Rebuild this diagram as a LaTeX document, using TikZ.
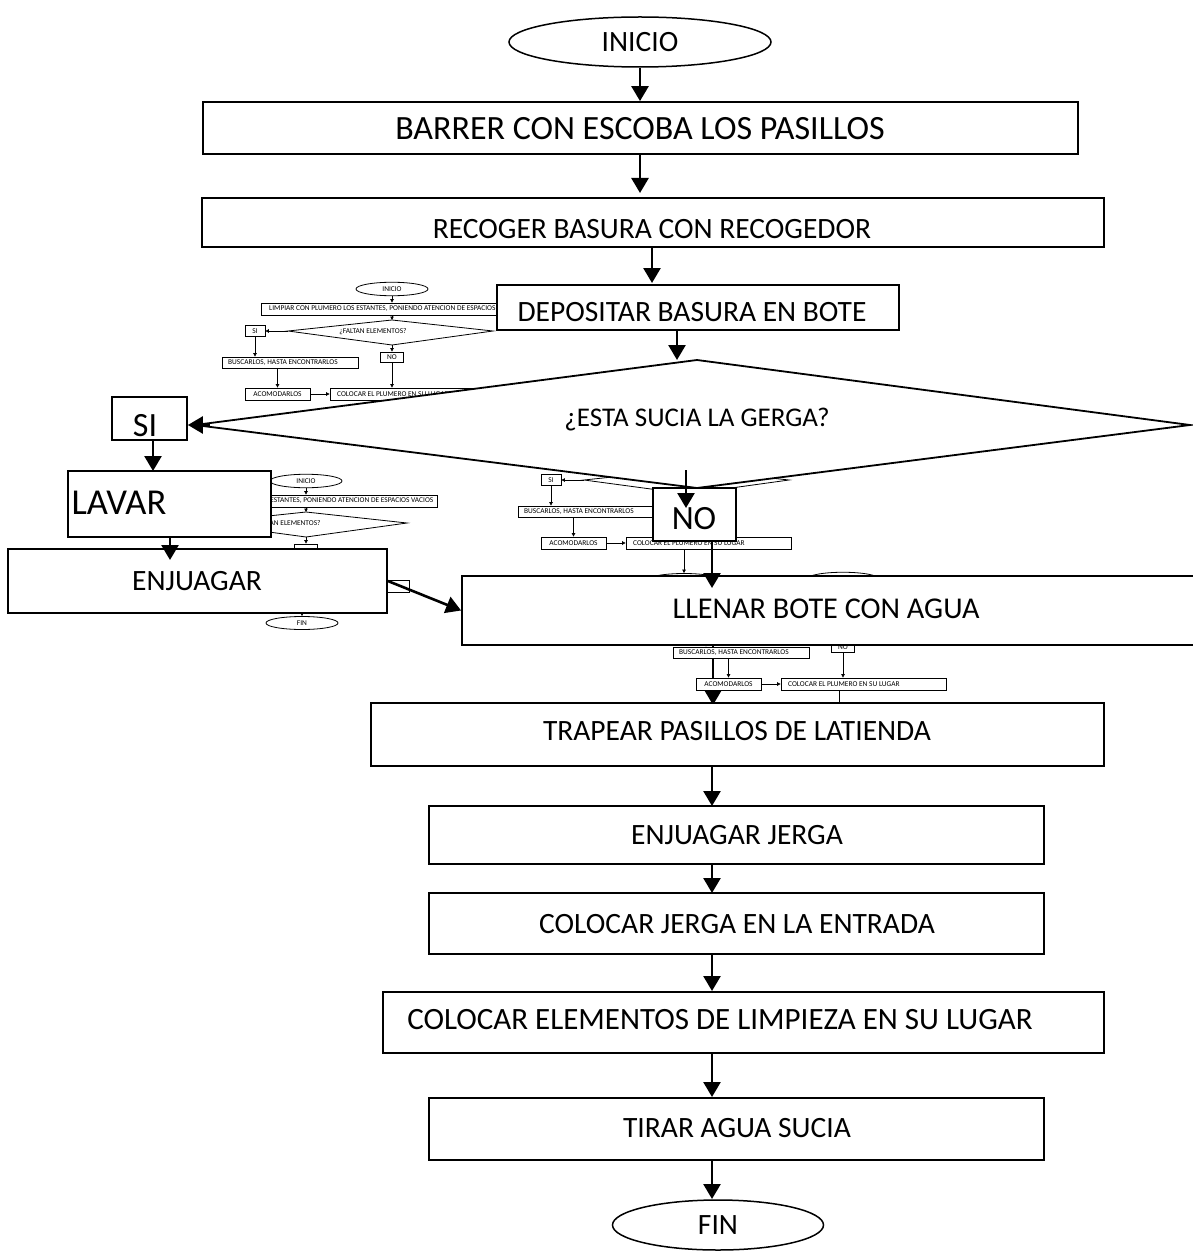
\documentclass[tikz,border=0pt]{standalone}
\usepackage{fontspec}
\setmainfont{Carlito}
\usetikzlibrary{shapes.geometric,arrows.meta}
\pgfdeclarelayer{bg}
\pgfdeclarelayer{mini}
\pgfdeclarelayer{fg}
\pgfsetlayers{bg,mini,main,fg}
\tikzset{
  mainbox/.style={draw, line width=1.8pt, fill=white, inner sep=0pt},
  mainell/.style={ellipse, draw, line width=1.5pt, fill=white, inner sep=0pt},
  txt/.style={inner sep=0pt, font=\fontsize{29.5}{32}\selectfont},
  bigtxt/.style={inner sep=0pt, font=\fontsize{34}{38}\selectfont},
  arr/.style={line width=2.6pt, -{Triangle[length=15pt,width=17pt]}},
  minibox/.style={draw, line width=0.8pt, fill=white, inner sep=0pt},
  miniell/.style={ellipse, draw, line width=0.8pt, fill=white, inner sep=0pt},
  minitxt/.style={inner sep=0pt, font=\fontsize{7.4}{8}\selectfont},
  miniarr/.style={line width=0.7pt, -{Triangle[length=3.5pt,width=3.5pt]}},
}
\newcommand\shownlist{}
\makeatletter
\newcommand\IfShown[2]{%
  \edef\minitmp{\noexpand\in@{,#1,}{,\shownlist,}}\minitmp
  \ifin@ #2\fi}
\makeatother
% #1 suffix, #2 dx, #3 dy, #4 texts that are visible
\newcommand\minichart[4]{%
 \renewcommand\shownlist{#4}%
 \begin{scope}[shift={(#2,#3)}]
  \node[miniell, minimum width=72pt, minimum height=13.5pt] (ini#1) at (392,289) {};
  \IfShown{ini}{\node[minitxt] (init#1) at (392,289) {INICIO};}
  \node[minibox, minimum width=262pt, minimum height=12pt] (lim#1) at (392,309) {};
  \IfShown{lim}{\node[minitxt, anchor=west] (limt#1) at (269,309) {LIMPIAR CON PLUMERO LOS ESTANTES, PONIENDO ATENCION DE ESPACIOS VACIOS};}
  \coordinate (dl#1) at (288,331);
  \coordinate (dt#1) at (392,320);
  \coordinate (dr#1) at (493,331);
  \coordinate (db#1) at (392,345);
  \draw[line width=0.8pt, fill=white] (dl#1) -- (dt#1) -- (dr#1) -- (db#1) -- cycle;
  \IfShown{dia}{\node[minitxt] (diat#1) at (373,332) {¿FALTAN ELEMENTOS?};}
  \node[minibox, minimum width=20pt, minimum height=11pt] (si#1) at (255,331) {};
  \IfShown{si}{\node[minitxt] (sit#1) at (255,331) {SI};}
  \node[minibox, minimum width=136pt, minimum height=11pt] (bus#1) at (290,362.5) {};
  \IfShown{bus}{\node[minitxt, anchor=west] (bust#1) at (228,362.5) {BUSCARLOS, HASTA ENCONTRARLOS};}
  \node[minibox, minimum width=23pt, minimum height=10pt] (no#1) at (392,357) {};
  \IfShown{no}{\node[minitxt] (not#1) at (392,357) {NO};}
  \node[minibox, minimum width=65pt, minimum height=12pt] (aco#1) at (277.5,394) {};
  \IfShown{aco}{\node[minitxt] (acot#1) at (277.5,394) {ACOMODARLOS};}
  \node[minibox, minimum width=165pt, minimum height=12pt] (col#1) at (412.5,394) {};
  \IfShown{col}{\node[minitxt, anchor=west] (colt#1) at (337,394) {COLOCAR EL PLUMERO EN SU LUGAR};}
  \node[miniell, minimum width=72pt, minimum height=13pt] (fin#1) at (388,431) {};
  \IfShown{fin}{\node[minitxt] (fint#1) at (388,431) {FIN};}
  \draw[miniarr] (ini#1) -- (lim#1);
  \draw[miniarr] (lim#1) -- (dt#1);
  \draw[miniarr] (dl#1) -- (si#1);
  \draw[miniarr] (si#1) -- (si#1 |- bus#1.north);
  \draw[miniarr] (db#1) -- (no#1);
  \draw[miniarr] (bus#1.south -| aco#1) -- (aco#1);
  \draw[miniarr] (aco#1) -- (col#1);
  \draw[miniarr] (no#1) -- (no#1 |- col#1.north);
  \draw[miniarr] (col#1.south -| fin#1) -- (fin#1);
 \end{scope}}
\begin{document}
\begin{tikzpicture}[x=1pt,y=-1pt]
\useasboundingbox (0,0) rectangle (1192,1257);
% main shapes
\node[mainell, minimum width=262pt, minimum height=50pt] (inicio) at (640,42) {};
\node[txt] (inicioT) at (640,42) {INICIO};
\node[mainbox, minimum width=875pt, minimum height=52pt] (barrer) at (640.5,128) {};
\node[txt, font=\fontsize{34}{38}\selectfont] (barrerT) at (640,129) {BARRER CON ESCOBA LOS PASILLOS};
\node[mainbox, minimum width=902pt, minimum height=49pt] (recoger) at (653,222.5) {};
\node[txt] (recogerT) at (652,229) {RECOGER BASURA CON RECOGEDOR};
\node[mainbox, minimum width=402pt, minimum height=45pt] (depositar) at (698,307.5) {};
\node[txt] (depositarT) at (692,312) {DEPOSITAR BASURA EN BOTE};
\coordinate (dL) at (195,425);
\coordinate (dT) at (697,360);
\coordinate (dR) at (1190,425);
\coordinate (dB) at (697,488);
\draw[line width=1.8pt, fill=white] (dL) -- (dT) -- (dR) -- (dB) -- cycle;
\node[inner sep=0pt, font=\fontsize{27}{30}\selectfont] (diamT) at (697,420) {¿ESTA SUCIA LA GERGA?};
\node[mainbox, minimum width=75pt, minimum height=43pt] (si) at (149.5,418.5) {};
\node[bigtxt] (siT) at (145,426) {SI};
\node[mainbox, minimum width=203pt, minimum height=66pt] (lavar) at (169.5,504) {};
\node[bigtxt, font=\fontsize{36.5}{40}\selectfont] (lavarT) at (119,503) {LAVAR};
\node[mainbox, minimum width=379pt, minimum height=64pt] (enjuagar) at (197.5,581) {};
\node[txt] (enjuagarT) at (197,581) {ENJUAGAR};
\node[mainbox, minimum width=83pt, minimum height=53pt] (no) at (694.5,514.5) {};
\node[bigtxt] (noT) at (694,519) {NO};
\node[mainbox, minimum width=732pt, minimum height=69pt] (llenar) at (828,610.5) {};
\node[txt, font=\fontsize{30.2}{33}\selectfont] (llenarT) at (826,609) {LLENAR BOTE CON AGUA};
\node[mainbox, minimum width=733pt, minimum height=63pt] (trapear) at (737.5,734.5) {};
\node[txt] (trapearT) at (737,731) {TRAPEAR PASILLOS DE LATIENDA};
\node[mainbox, minimum width=615pt, minimum height=58pt] (enjjerga) at (736.5,835) {};
\node[txt] (enjjergaT) at (737,835) {ENJUAGAR JERGA};
\node[mainbox, minimum width=615pt, minimum height=61pt] (colentrada) at (736.5,923.5) {};
\node[txt] (colentradaT) at (737,924) {COLOCAR JERGA EN LA ENTRADA};
\node[mainbox, minimum width=721pt, minimum height=61pt] (colelem) at (743.5,1022.5) {};
\node[txt, font=\fontsize{31}{34}\selectfont] (colelemT) at (720,1020) {COLOCAR ELEMENTOS DE LIMPIEZA EN SU LUGAR};
\node[mainbox, minimum width=615pt, minimum height=62pt] (tirar) at (736.5,1129) {};
\node[txt] (tirarT) at (737,1128) {TIRAR AGUA SUCIA};
\node[mainell, minimum width=211pt, minimum height=50pt] (fin) at (718,1225) {};
\node[txt] (finT) at (718,1225) {FIN};
% embedded small charts
\begin{pgfonlayer}{mini}
\minichart{a}{0}{0}{ini,lim,dia,si,bus,no,aco,col}
\minichart{b}{-86}{192}{ini,lim,dia,fin}
\minichart{c}{296}{149}{si,bus,aco,col}
\minichart{d}{451}{290}{no,bus,aco,col}
\end{pgfonlayer}
\begin{pgfonlayer}{bg}
\coordinate (ltEnd) at (713,705);
\draw[arr] (llenar.south -| ltEnd) -- (ltEnd);
\end{pgfonlayer}
% arrows
\begin{pgfonlayer}{fg}
\draw[arr] (inicio.south) -- (barrer.north -| inicio.south);
\coordinate (a2) at (640,193);
\draw[arr] (barrer.south -| a2) -- (a2);
\coordinate (a3) at (652,283);
\draw[arr] (recoger.south -| a3) -- (a3);
\coordinate (a4) at (677,360);
\draw[arr] (depositar.south -| a4) -- (a4);
\coordinate (dLa) at (210,425);
\draw[arr] (dLa) -- (si.east |- dLa);
\coordinate (a5) at (153,471);
\draw[arr] (si.south -| a5) -- (a5);
\coordinate (a6) at (170,560);
\draw[arr] (lavar.south -| a6) -- (a6);
\draw[arr] (enjuagar.east) -- (llenar.west);
\coordinate (noA) at (686,470);
\coordinate (noB) at (686,508);
\draw[arr] (noA) -- (noB);
\coordinate (a7) at (712,588);
\draw[arr] (no.south -| a7) -- (a7);
\coordinate (a8) at (712,806);
\draw[arr] (trapear.south -| a8) -- (a8);
\coordinate (a9) at (712,893);
\draw[arr] (enjjerga.south -| a9) -- (a9);
\coordinate (a10) at (712,991);
\draw[arr] (colentrada.south -| a10) -- (a10);
\coordinate (a11) at (712,1097);
\draw[arr] (colelem.south -| a11) -- (a11);
\coordinate (a12) at (712,1199);
\draw[arr] (tirar.south -| a12) -- (a12);
\end{pgfonlayer}
\end{tikzpicture}
\end{document}
